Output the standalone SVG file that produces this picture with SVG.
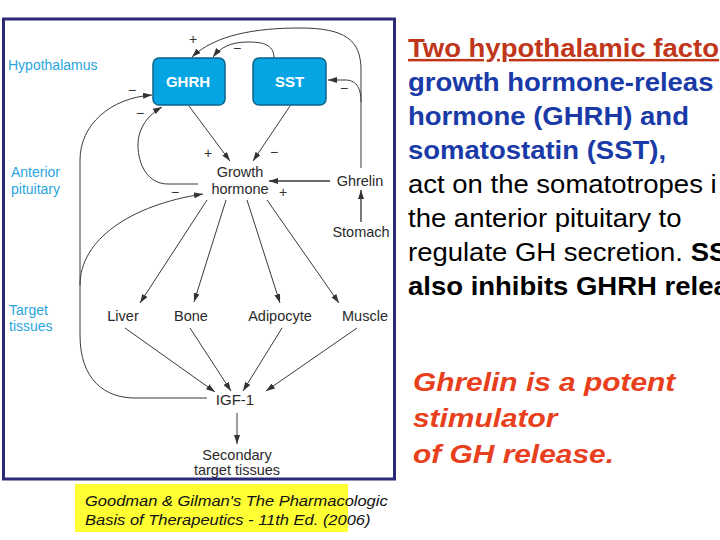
<svg xmlns="http://www.w3.org/2000/svg" width="720" height="540" viewBox="0 0 720 540">
<style>
.lbl{font-family:"Liberation Sans",Arial,sans-serif;font-size:14.5px;fill:#2a2a2a}
.reg{font-family:"Liberation Sans",Arial,sans-serif;font-size:14px;fill:#2aa5dd}
.sign{font-family:"Liberation Sans",Arial,sans-serif;font-size:14px;fill:#333}
.box{fill:#05a4e2;stroke:#0b6288;stroke-width:1.5}
.boxt{font-family:"Liberation Sans",Arial,sans-serif;font-size:15px;font-weight:bold;fill:#ffffff}
.c{fill:none;stroke:#3a3a3a;stroke-width:1}
.g{fill:none;stroke:#6a6a6a;stroke-width:1.8}
.rt{font-family:"Liberation Sans",Arial,sans-serif;font-size:25px}
.ct{font-family:"Liberation Sans",Arial,sans-serif;font-size:15px;font-style:italic;fill:#111}
.bt{font-family:"Liberation Sans",Arial,sans-serif;font-size:26px;font-style:italic;font-weight:bold;fill:#e8401c}
</style>
<defs>
<marker id="ah" markerUnits="userSpaceOnUse" markerWidth="9" markerHeight="6" refX="9" refY="3" orient="auto">
<path d="M0,0 L9,3 L0,6 z" fill="#333"/>
</marker>
</defs>
<rect x="0" y="0" width="720" height="540" fill="#ffffff"/>
<rect id="frame" x="3.5" y="19" width="391" height="460" fill="#ffffff" stroke="#2c2a78" stroke-width="3"/>

<g id="region-labels">
<text class="reg" x="8" y="70">Hypothalamus</text>
<text class="reg" x="11" y="177">Anterior</text>
<text class="reg" x="11" y="194">pituitary</text>
<text class="reg" x="9" y="315">Target</text>
<text class="reg" x="9" y="331">tissues</text>
</g>

<g id="connectors">
<path class="c" d="M361,168 L361,70 C361,40 345,28 300,28 C255,28 215,35 192,57" marker-end="url(#ah)"/>
<path class="c" d="M361,102 C361,86 355,80 345,80 L328,80" marker-end="url(#ah)"/>
<path class="c" d="M274,58 C274,44 262,42 248,42 C230,42 220,48 213,57" marker-end="url(#ah)"/>
<path class="c" d="M189,106 L230,161" marker-end="url(#ah)"/>
<path class="c" d="M290,106 L253,161" marker-end="url(#ah)"/>
<path class="g" d="M330,181 L269,181" marker-end="url(#ah)"/>
<path class="g" d="M361,222 L361,190" marker-end="url(#ah)"/>
<path class="c" d="M207,398 L135,398 C105,398 80,380 80,335 L80,160 C80,125 110,98 152,95" marker-end="url(#ah)"/>
<path class="c" d="M80,285 C80,240 130,205 203,194" marker-end="url(#ah)"/>
<path class="c" d="M198,184 L168,184 C148,184 138,165 138,145 C138,128 148,115 162,107" marker-end="url(#ah)"/>
<path class="c" d="M207,200 L140,303" marker-end="url(#ah)"/>
<path class="c" d="M226,200 L194,302" marker-end="url(#ah)"/>
<path class="c" d="M247,200 L280,303" marker-end="url(#ah)"/>
<path class="c" d="M267,200 L339,303" marker-end="url(#ah)"/>
<path class="c" d="M125,328 L215,392" marker-end="url(#ah)"/>
<path class="c" d="M190,328 L231,391" marker-end="url(#ah)"/>
<path class="c" d="M282,328 L243,391" marker-end="url(#ah)"/>
<path class="c" d="M357,328 L266,391" marker-end="url(#ah)"/>
<path class="c" d="M237,413 L237,444" marker-end="url(#ah)"/>
</g>

<g id="signs">
<text class="sign" x="193" y="44" text-anchor="middle">+</text>
<text class="sign" x="237" y="53" text-anchor="middle">−</text>
<text class="sign" x="344" y="93" text-anchor="middle">−</text>
<text class="sign" x="208" y="158" text-anchor="middle">+</text>
<text class="sign" x="274" y="157" text-anchor="middle">−</text>
<text class="sign" x="132" y="95" text-anchor="middle">−</text>
<text class="sign" x="140" y="118" text-anchor="middle">−</text>
<text class="sign" x="175" y="197" text-anchor="middle">−</text>
<text class="sign" x="283" y="197" text-anchor="middle">+</text>
</g>

<g id="node-ghrh">
<rect class="box" x="153" y="58" width="72" height="47" rx="6"/>
<text class="boxt" x="188" y="87" text-anchor="middle">GHRH</text>
</g>
<g id="node-sst">
<rect class="box" x="253" y="58" width="73" height="47" rx="6"/>
<text class="boxt" x="289.5" y="87" text-anchor="middle">SST</text>
</g>
<g id="node-gh">
<text class="lbl" x="240" y="177" text-anchor="middle">Growth</text>
<text class="lbl" x="240" y="194" text-anchor="middle">hormone</text>
</g>
<g id="node-ghrelin"><text class="lbl" x="360" y="186" text-anchor="middle">Ghrelin</text></g>
<g id="node-stomach"><text class="lbl" x="361" y="237" text-anchor="middle">Stomach</text></g>
<g id="node-liver"><text class="lbl" x="123" y="321" text-anchor="middle">Liver</text></g>
<g id="node-bone"><text class="lbl" x="191" y="321" text-anchor="middle">Bone</text></g>
<g id="node-adipocyte"><text class="lbl" x="280" y="321" text-anchor="middle">Adipocyte</text></g>
<g id="node-muscle"><text class="lbl" x="365" y="321" text-anchor="middle">Muscle</text></g>
<g id="node-igf1"><text class="lbl" x="235" y="405" text-anchor="middle" style="font-size:15px">IGF-1</text></g>
<g id="node-secondary">
<text class="lbl" x="237" y="460" text-anchor="middle">Secondary</text>
<text class="lbl" x="237" y="475" text-anchor="middle">target tissues</text>
</g>

<g id="caption">
<rect x="75" y="484" width="273" height="48" fill="#ffff33"/>
<g transform="translate(85 0) scale(1.1 1)">
<text class="ct" x="0" y="506">Goodman &amp; Gilman's The Pharmacologic</text>
<text class="ct" x="0" y="525">Basis of Therapeutics - 11th Ed. (2006)</text>
</g>
</g>

<g id="side-text" transform="translate(408 0) scale(1.1 1)">
<text class="rt" x="0" y="57" style="font-weight:bold;fill:#c0361a;text-decoration:underline">Two hypothalamic facto</text>
<text class="rt" x="0" y="91" style="font-weight:bold;fill:#1a3aa8">growth hormone-releas</text>
<text class="rt" x="0" y="125" style="font-weight:bold;fill:#1a3aa8">hormone (GHRH) and</text>
<text class="rt" x="0" y="159" style="font-weight:bold;fill:#1a3aa8">somatostatin (SST),</text>
<text class="rt" x="0" y="193" style="fill:#000">act on the somatotropes i</text>
<text class="rt" x="0" y="227" style="fill:#000">the anterior pituitary to</text>
<text class="rt" x="0" y="261" style="fill:#000">regulate GH secretion. <tspan style="font-weight:bold">SS</tspan></text>
<text class="rt" x="0" y="295" style="font-weight:bold;fill:#000">also inhibits GHRH relea</text>
</g>

<g id="ghrelin-note" transform="translate(413 0) scale(1.15 1)">
<text class="bt" x="0" y="391">Ghrelin is a potent</text>
<text class="bt" x="0" y="427">stimulator</text>
<text class="bt" x="0" y="463">of GH release.</text>
</g>
</svg>
